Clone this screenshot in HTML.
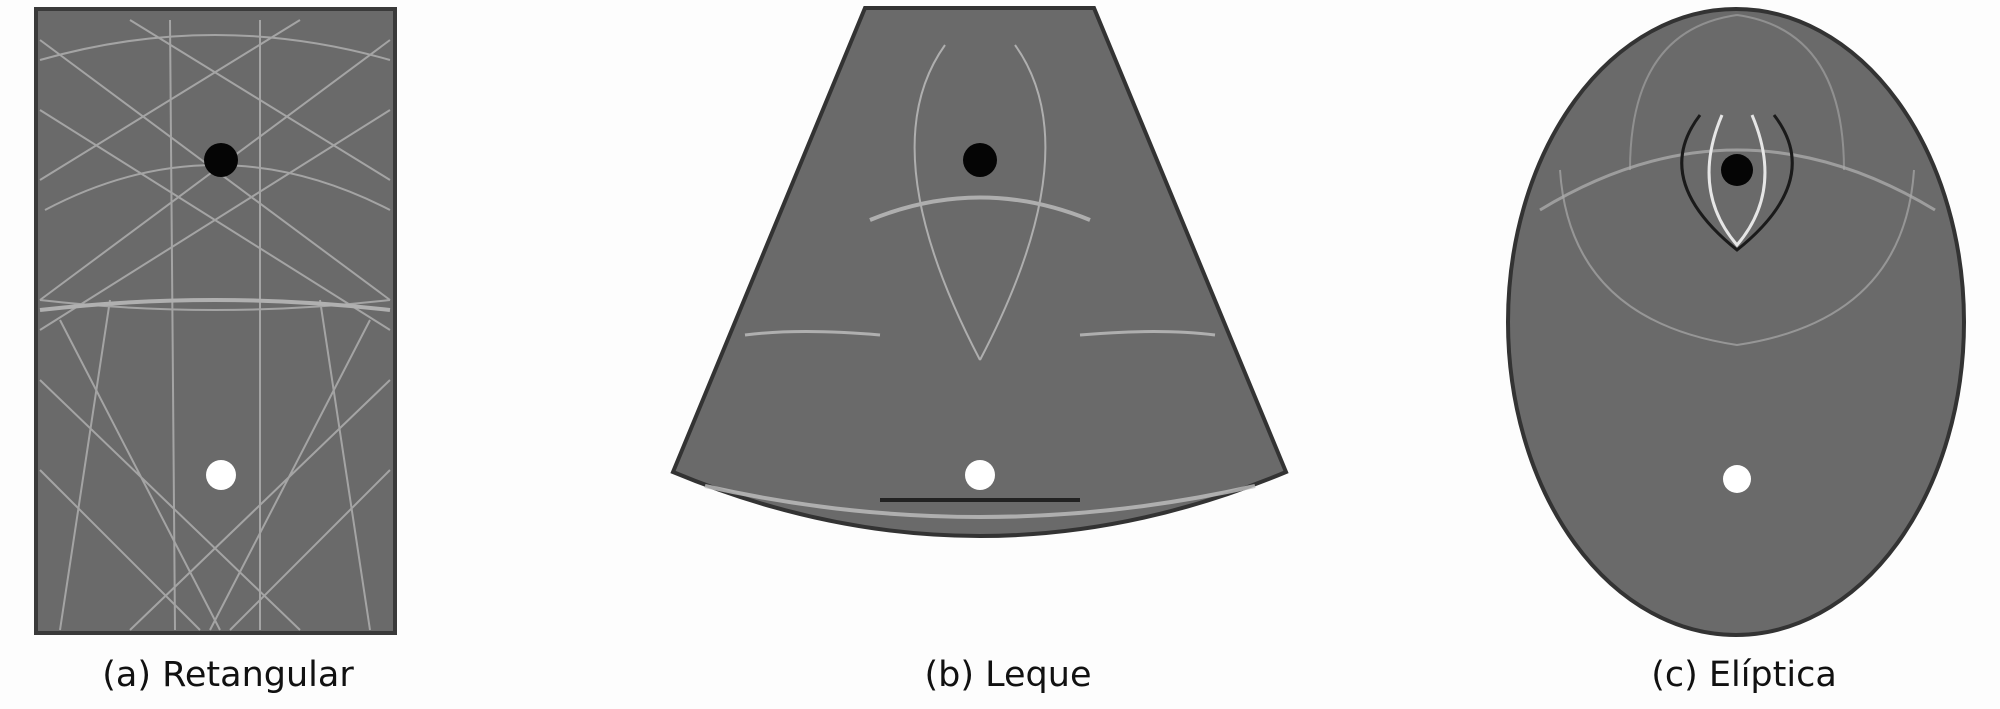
<!DOCTYPE html>
<html><head><meta charset="utf-8"><style>
html,body{margin:0;padding:0;background:#fff;}
svg{display:block;}
text{font-family:"DejaVu Sans","Liberation Sans",sans-serif;}
</style></head><body>
<svg width="2000" height="709" viewBox="0 0 2000 709">
<rect width="2000" height="709" fill="#fdfdfd"/>

<g>
<rect x="36" y="9" width="359" height="624" fill="#6a6a6a" stroke="#3a3a3a" stroke-width="4"/>
<g stroke="#b8b8b8" stroke-width="2" fill="none" opacity="0.75">
<path d="M40 40 L390 300 M390 40 L40 300 M40 110 L390 330 M390 110 L40 330 M40 180 L300 20 M390 180 L130 20"/>
<path d="M40 300 Q215 320 390 300 M40 60 Q215 10 390 60 M45 210 Q215 120 390 210"/>
<path d="M170 20 L175 630 M260 20 L260 630 M110 300 L60 630 M320 300 L370 630"/>
<path d="M40 380 L300 630 M390 380 L130 630 M40 470 L200 630 M390 470 L230 630 M60 320 L220 630 M370 320 L210 630"/>
<path d="M40 310 Q215 290 390 310" stroke="#c8c8c8" stroke-width="4"/>
</g>
<circle cx="221" cy="160" r="17" fill="#050505"/>
<circle cx="221" cy="475" r="15" fill="#ffffff"/>
</g>

<g>
<path d="M865 8 L1094 8 L1286 472 Q980 600 673 472 Z" fill="#6a6a6a" stroke="#333" stroke-width="4"/>
<g stroke="#c0c0c0" stroke-width="2" fill="none" opacity="0.8">
<path d="M945 45 Q870 150 980 360 M1015 45 Q1090 150 980 360"/>
<path d="M870 220 Q980 175 1090 220" stroke-width="4"/>
<path d="M745 335 Q800 328 880 335 M1080 335 Q1160 328 1215 335" stroke-width="3"/>
<path d="M705 486 Q980 548 1255 486" stroke-width="4"/>
</g>
<path d="M880 500 L1080 500" stroke="#222" stroke-width="4"/>
<circle cx="980" cy="160" r="17" fill="#050505"/>
<circle cx="980" cy="475" r="15" fill="#ffffff"/>
</g>

<g>
<ellipse cx="1736" cy="322" rx="228" ry="313" fill="#6a6a6a" stroke="#333" stroke-width="4"/>
<g fill="none">
<path d="M1540 210 Q1737 90 1935 210" stroke="#aaa" stroke-width="3" opacity="0.8"/>
<path d="M1560 170 Q1570 320 1737 345 Q1904 320 1914 170" stroke="#aaa" stroke-width="2" opacity="0.7"/>
<path d="M1737 15 Q1630 30 1630 170 M1737 15 Q1844 30 1844 170" stroke="#aaa" stroke-width="2" opacity="0.6"/>
<path d="M1700 115 Q1650 180 1737 250 Q1824 180 1774 115" stroke="#1a1a1a" stroke-width="3"/>
<path d="M1722 115 Q1690 190 1737 245 Q1784 190 1752 115" stroke="#e6e6e6" stroke-width="3"/>
</g>
<circle cx="1737" cy="170" r="16" fill="#050505"/>
<circle cx="1737" cy="479" r="14" fill="#ffffff"/>
</g>

<text x="228" y="686" font-size="35" text-anchor="middle" fill="#111">(a) Retangular</text>
<text x="1008" y="686" font-size="35" text-anchor="middle" fill="#111">(b) Leque</text>
<text x="1744" y="686" font-size="35" text-anchor="middle" fill="#111">(c) Elíptica</text>
</svg>
</body></html>
